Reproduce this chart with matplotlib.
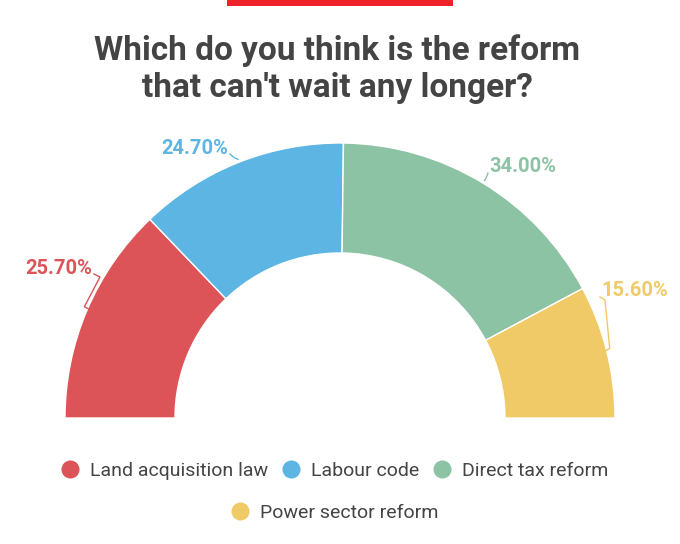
import numpy as np
import matplotlib
matplotlib.use('Agg')
import matplotlib.pyplot as plt
from matplotlib.lines import Line2D
from matplotlib.patches import Rectangle

plt.rcParams['font.family'] = ['Roboto', 'DejaVu Sans']

# data
categories = ['Land acquisition law', 'Labour code', 'Direct tax reform', 'Power sector reform']
shares = [25.7, 24.7, 34.0, 15.6]
colors = ['#DC5457', '#5DB5E4', '#8DC3A5', '#F0CA67']
labels = ['25.70%', '24.70%', '34.00%', '15.60%']

W, H = 680, 544
fig = plt.figure(figsize=(W / 100, H / 100), dpi=100)
ax = fig.add_axes([0, 0, 1, 1])

# half donut: add an invisible half so the shares fill the top 180 degrees
cx, cy, R, ring = 340, 418, 275, 110
total = sum(shares)
wedges, _ = ax.pie(shares + [total], colors=colors + ['none'], startangle=180,
                   counterclock=True, center=(cx, cy), radius=R,
                   wedgeprops=dict(width=ring, edgecolor='white', linewidth=1))
wedges[-1].set_edgecolor('none')

ax.set_xlim(0, W)
ax.set_ylim(H, 0)
ax.set_aspect('equal')
ax.axis('off')

# red bar on top
ax.add_patch(Rectangle((227, 0), 226, 6, color='#EE2229', lw=0))

# title
ax.text(337, 60, 'Which do you think is the reform', ha='center', va='baseline',
        fontsize=24, fontweight='bold', color='#444444')
ax.text(337, 97, "that can't wait any longer?", ha='center', va='baseline',
        fontsize=24, fontweight='bold', color='#444444')

# data labels with connectors
label_pos = [(92, 268, 'right'), (228, 148, 'right'), (489, 167, 'left'), (601, 291, 'left')]
cum = np.cumsum(shares) - np.array(shares) / 2
for i, (lx, ly, ha) in enumerate(label_pos):
    ang = np.deg2rad(180 + cum[i] / total * 180)
    px = cx + (R + 3) * np.cos(ang)
    py = cy + (R + 3) * np.sin(ang)
    ax.text(lx, ly, labels[i], ha=ha, va='center', fontsize=14.5,
            fontweight='bold', color=colors[i])
    side = 1 if ha == 'right' else -1
    sx = lx + 2 * side if ha == 'right' else lx - 1
    sy = ly + 6
    if i in (0, 3):
        mx = sx + 6 if i == 0 else sx + 5
        xs = [sx, mx, px, px + 4 * (1 if i == 0 else -1)]
        ys = [sy, sy + 3, py - 2, py]
    else:
        xs = [sx, (sx + px) / 2, px]
        ys = [sy, (sy + py) / 2 + 1, py]
    ax.plot(xs, ys, color=colors[i], lw=1, solid_joinstyle='miter')

# legend
handles = [Line2D([], [], marker='o', ls='none', markersize=13, color=c,
                  markeredgewidth=0) for c in colors]
leg_kw = dict(loc='center', frameon=False, fontsize=14, handlelength=0.9,
              handletextpad=0.55, columnspacing=0.75, labelcolor='#444444')
leg1 = ax.legend(handles[:3], categories[:3], ncol=3,
                 bbox_to_anchor=(335 / W, 1 - 471 / H), **leg_kw)
ax.add_artist(leg1)
ax.legend(handles[3:], categories[3:], ncol=1,
          bbox_to_anchor=(335 / W, 1 - 513 / H), **leg_kw)

plt.savefig('out.png', dpi=100)
